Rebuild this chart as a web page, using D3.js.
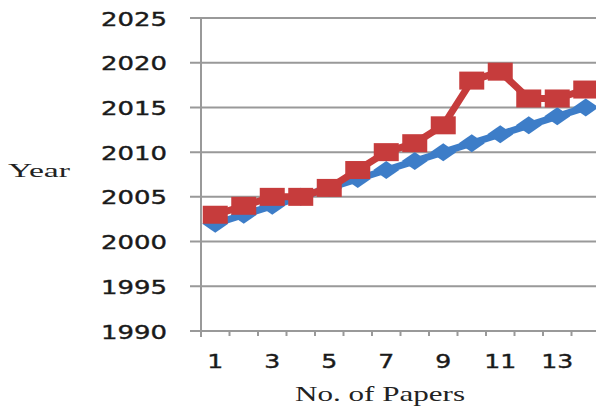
<!DOCTYPE html>
<html><head><meta charset="utf-8">
<script src="https://cdn.jsdelivr.net/npm/d3@7"></script>
<style>body{margin:0;background:#fff}svg{display:block}</style>
</head><body>
<svg id="c" width="596" height="410"></svg>
<script>
const categories = [1,2,3,4,5,6,7,8,9,10,11,12,13,14];
const blueSeries = [2002,2003,2004,2005,2006,2007,2008,2009,2010,2011,2012,2013,2014,2015];
const redSeries  = [2003,2004,2005,2005,2006,2008,2010,2011,2013,2018,2019,2016,2016,2017];
const yTicks = [1990,1995,2000,2005,2010,2015,2020,2025];
const xTickLabels = [1,3,5,7,9,11,13];

(function(){
const svg = d3.select("#c");
const plotLeft = 201, plotTop = 18, plotBottom = 331;
const x = d3.scaleBand().domain(categories).range([plotLeft, plotLeft + 14*28.5]).padding(0);
const y = d3.scaleLinear().domain([1990, 2025]).range([plotBottom, plotTop]);

svg.append("g").selectAll("line").data(yTicks).join("line")
  .attr("x1", 190).attr("x2", 600)
  .attr("y1", d => y(d)).attr("y2", d => y(d))
  .attr("stroke", "#999").attr("stroke-width", 2);
svg.append("line").attr("x1", plotLeft).attr("x2", plotLeft).attr("y1", plotTop).attr("y2", plotBottom + 6)
  .attr("stroke", "#999").attr("stroke-width", 2);
svg.append("g").selectAll("line").data(categories.slice(1)).join("line")
  .attr("x1", d => x(d)).attr("x2", d => x(d))
  .attr("y1", plotBottom).attr("y2", plotBottom + 5)
  .attr("stroke", "#999").attr("stroke-width", 2);

svg.append("g").selectAll("text").data(yTicks).join("text")
  .attr("x", 167).attr("y", d => y(d) + 7.5)
  .attr("text-anchor", "end")
  .attr("font-family", "DejaVu Sans").attr("font-size", 20).attr("fill", "#1a1a1a")
  .attr("stroke", "#1a1a1a").attr("stroke-width", 0.4)
  .attr("textLength", 66).attr("lengthAdjust", "spacingAndGlyphs")
  .text(d => d);
svg.append("g").selectAll("text").data(xTickLabels).join("text")
  .attr("x", d => x(d) + x.bandwidth()/2).attr("y", 368)
  .attr("text-anchor", "middle")
  .attr("font-family", "DejaVu Sans").attr("font-size", 20).attr("fill", "#1a1a1a")
  .attr("stroke", "#1a1a1a").attr("stroke-width", 0.4)
  .attr("textLength", d => String(d).length * 16).attr("lengthAdjust", "spacingAndGlyphs")
  .text(d => d);

svg.append("text").attr("x", 8).attr("y", 177)
  .attr("font-family", "Liberation Serif").attr("font-size", 18).attr("fill", "#222")
  .attr("textLength", 62).attr("lengthAdjust", "spacingAndGlyphs").text("Year");
svg.append("text").attr("x", 295).attr("y", 401)
  .attr("font-family", "Liberation Serif").attr("font-size", 22).attr("fill", "#222")
  .attr("textLength", 170).attr("lengthAdjust", "spacingAndGlyphs").text("No. of Papers");

const cx = d => x(d) + x.bandwidth()/2;
const line = d3.line().x(d => cx(d[0])).y(d => y(d[1]));

const blue = "#3d7dc8", red = "#c63c3c";
const bData = categories.map((c,i) => [c, blueSeries[i]]);
const rData = categories.map((c,i) => [c, redSeries[i]]);

svg.append("path").datum(bData).attr("d", line).attr("fill", "none")
  .attr("stroke", blue).attr("stroke-width", 7).attr("stroke-linejoin", "round");
svg.append("g").selectAll("path").data(bData).join("path")
  .attr("d", d => { const px = cx(d[0]), py = y(d[1]); return `M${px-13},${py}L${px},${py-9}L${px+13},${py}L${px},${py+9}Z`; })
  .attr("fill", blue);

svg.append("path").datum(rData).attr("d", line).attr("fill", "none")
  .attr("stroke", red).attr("stroke-width", 7).attr("stroke-linejoin", "round");
svg.append("g").selectAll("rect").data(rData).join("rect")
  .attr("x", d => cx(d[0]) - 12.5).attr("y", d => y(d[1]) - 9)
  .attr("width", 25).attr("height", 18).attr("fill", red);
})();
</script>
</body></html>
